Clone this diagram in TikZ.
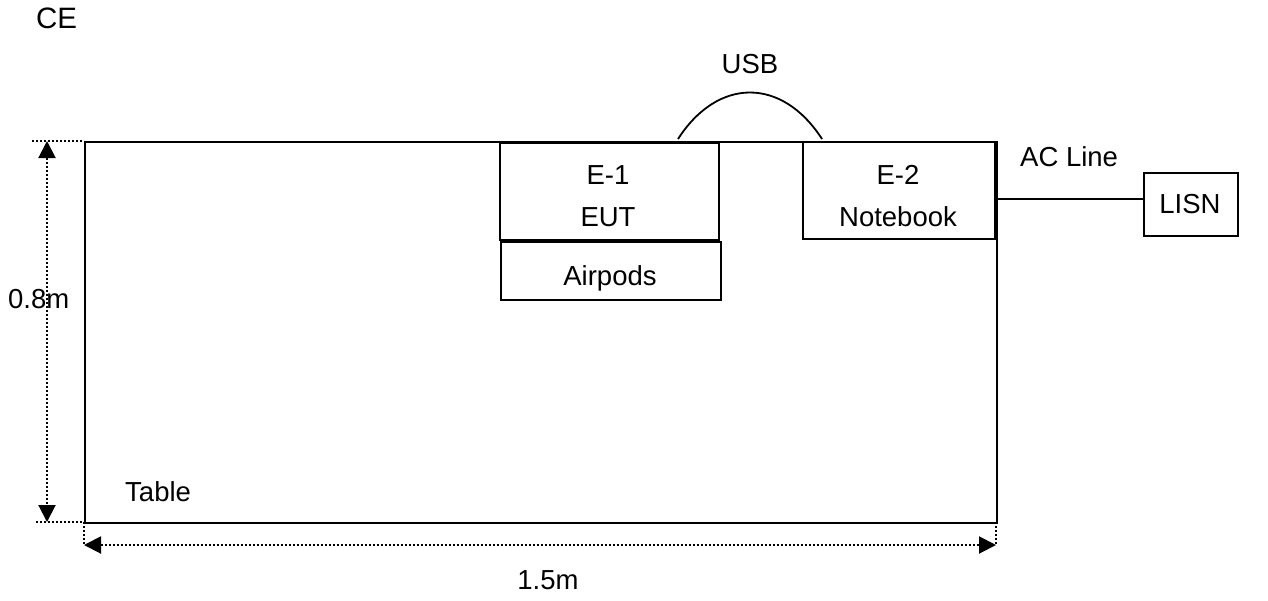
\documentclass[tikz,border=0pt]{standalone}
\usepackage{fontspec}
\setmainfont{Liberation Sans}
\usetikzlibrary{arrows.meta}
\begin{document}
\begin{tikzpicture}[x=1pt,y=-1pt,
  box/.style={draw,line width=1.9pt,inner sep=0pt},
  lbl/.style={font=\fontsize{27.5}{32}\selectfont,inner sep=0pt,anchor=base},
  dimline/.style={line width=2pt,dash pattern=on 2pt off 2pt},
  dimarrow/.style={dimline,{Triangle[width=17pt,length=17pt]}-{Triangle[width=17pt,length=17pt]}},
  wire/.style={line width=1.8pt}]
\useasboundingbox (0,0) rectangle (1268,600);
% table
\node[box,minimum width=912pt,minimum height=381pt,anchor=north west] (table) at (84,141) {};
\node[box,minimum width=219pt,minimum height=97pt,anchor=north west] (e1) at (499,142) {};
\node[box,minimum width=220pt,minimum height=58pt,anchor=north west] (air) at (500,241) {};
\node[box,minimum width=192pt,minimum height=97pt,anchor=north west] (e2) at (802,141) {};
\node[box,minimum width=94pt,minimum height=63pt,anchor=north west] (lisn) at (1143,172) {};
% texts
\node[lbl,font=\fontsize{29.5}{34}\selectfont,anchor=base west] (ce) at (36,28) {CE};
\node[lbl] (usb) at (750,73) {USB};
\node[lbl] (e1a) at (608,184) {E-1};
\node[lbl] (e1b) at (608,226) {EUT};
\node[lbl] (airt) at (610,285) {Airpods};
\node[lbl] (e2a) at (898,184) {E-2};
\node[lbl] (e2b) at (898,226) {Notebook};
\node[lbl,anchor=base west] (acl) at (1020,166) {AC Line};
\node[lbl] (lisnt) at (1190,213) {LISN};
\node[lbl,anchor=base west] (h) at (8,308) {0.8m};
\node[lbl,anchor=base west] (tbl) at (125,501) {Table};
\node[lbl] (w) at (548,589) {1.5m};
% USB cable
\coordinate (u1) at (678,139);
\coordinate (u2) at (822,139);
\draw[wire] (u1) .. controls (718,77) and (782,77) .. (u2);
% AC line
\coordinate (ac1) at (996,199);
\draw[wire] (ac1) -- (lisn.west |- ac1);
% dimensions
\coordinate (tl) at (84,141);
\coordinate (bl) at (84,522);
\coordinate (br) at (996,522);
\coordinate (vt) at (47,141);
\coordinate (vb) at (47,522);
\coordinate (hl) at (84,545);
\coordinate (hr) at (996,545);
\draw[dimline] (32,141) -- (tl);
\draw[dimline] (36,522) -- (bl);
\draw[dimline] (bl) -- (hl);
\draw[dimline] (br) -- (hr);
\draw[dimarrow] (vt) -- (vb);
\draw[dimarrow] (hl) -- (hr);
\end{tikzpicture}
\end{document}
